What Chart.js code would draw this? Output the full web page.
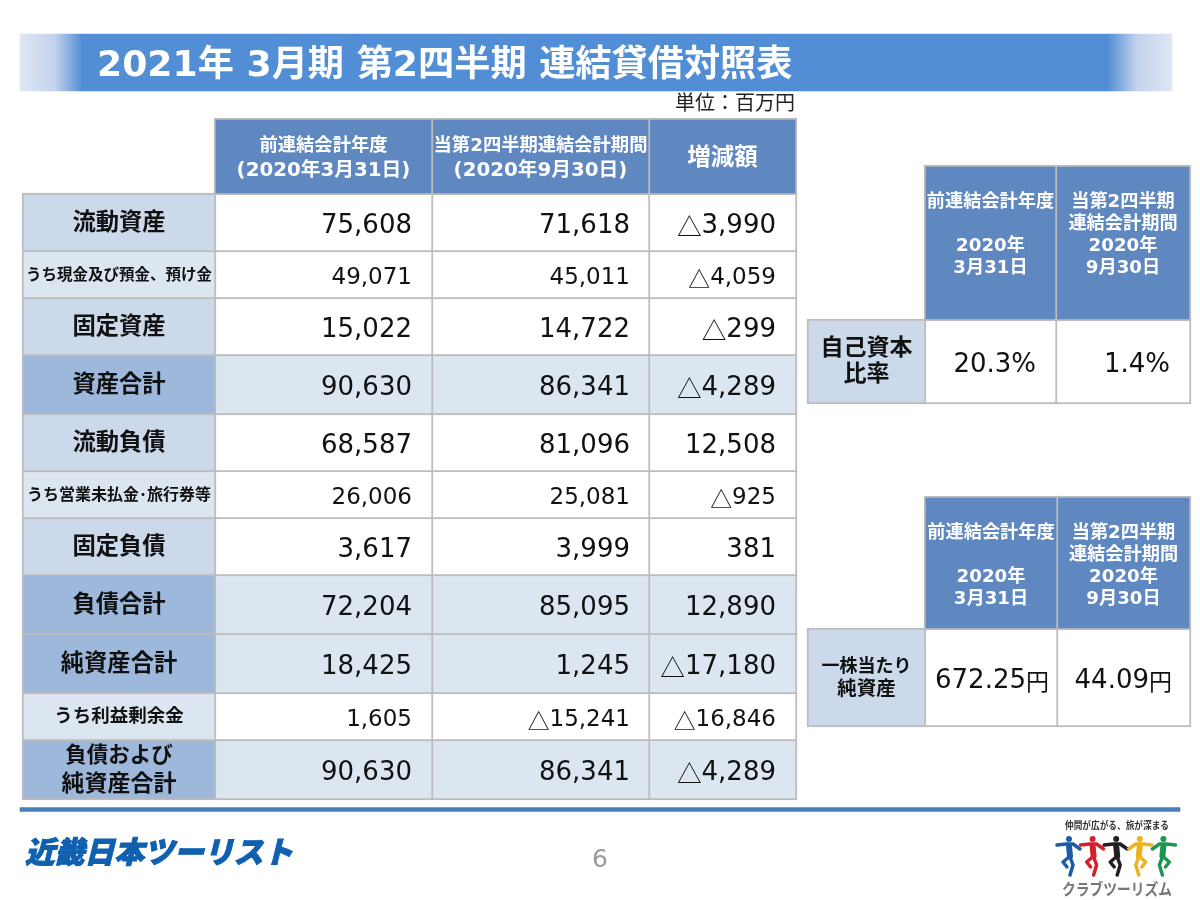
<!DOCTYPE html>
<html lang="ja">
<head>
<meta charset="utf-8">
<title>連結貸借対照表</title>
<script src="https://cdn.jsdelivr.net/npm/chart.js@4"></script>
<style>
  html, body { margin: 0; padding: 0; background: #fff; }
  canvas { display: block; }
</style>
</head>
<body>
<canvas id="slide" width="1200" height="900"></canvas>
<script>
// table content
const titleText = '2021年 3月期 第2四半期 連結貸借対照表';
const unitText = '単位：百万円';
const pageText = '6';
const headMain = [['前連結会計年度', '(2020年3月31日)'], ['当第2四半期連結会計期間', '(2020年9月30日)'], ['増減額']];
const rowLabels = [['流動資産'], ['うち現金及び預金、預け金'], ['固定資産'], ['資産合計'], ['流動負債'], ['うち営業未払金･旅行券等'], ['固定負債'], ['負債合計'], ['純資産合計'], ['うち利益剰余金'], ['負債および', '純資産合計']];
const prevValues = [75608, 49071, 15022, 90630, 68587, 26006, 3617, 72204, 18425, 1605, 90630];
const currValues = [71618, 45011, 14722, 86341, 81096, 25081, 3999, 85095, 1245, -15241, 86341];
const diffValues = [-3990, -4059, -299, -4289, 12508, -925, 381, 12890, -17180, -16846, -4289];
const rowKinds = ['main', 'sub', 'main', 'total', 'main', 'sub', 'main', 'total', 'total', 'sub', 'total'];

const headSide = [['前連結会計年度', '', '2020年', '3月31日'], ['当第2四半期', '連結会計期間', '2020年', '9月30日']];
const ratioLabel = ['自己資本', '比率'];
const ratioValues = [20.3, 1.4];
const bookLabel = ['一株当たり', '純資産'];
const bookValues = [672.25, 44.09];

const logoText = '近畿日本ツーリスト';
const tagText = '仲間が広がる、旅が深まる';
const clubText = 'クラブツーリズム';
const dancerColors = ['#1a5ca6', '#d5202c', '#231f20', '#efb21f', '#1c9650'];

// layout, in slide pixels (the axes run 0-1200 and 0-900)
const mainX = [23, 215, 432, 649, 796];
const mainY = [119, 194, 251, 298, 355, 414, 471, 518, 575, 634, 693, 740, 799];
const side1X = [808, 925, 1056, 1190];
const side1Y = [166, 320, 403];
const side2X = [808, 925, 1057, 1190];
const side2Y = [497, 629, 726];

const HEAD = '#5f87c0', LIGHT = '#cbd9ea', DARK = '#9db8da', PALE = '#dce6f1', LINE = '#bcbcbc', INK = '#111';
const SANS = '"DejaVu Sans", "Noto Sans CJK JP", sans-serif';
const CJK = '"Noto Sans CJK JP", sans-serif';

const fmt = v => (v < 0 ? '△' : '') + Math.abs(v).toLocaleString('en-US');

const cells = [];
// sizes: one px size per line, or one for all lines
function cell(x0, x1, y0, y1, fill, lines, o) {
  cells.push(Object.assign({ x0, x1, y0, y1, fill, lines, color: INK, bold: true, dy: 1 }, o));
}
function num(x0, x1, y0, y1, fill, text, size, right) {
  cell(x0, x1, y0, y1, fill, [text], { size, right, bold: false, dy: 4 });
}

// main table
headMain.forEach((lines, c) => {
  const o = c == 2 ? { size: 23.5 } : { size: [18.3, 19.8], lh: 24 };
  cell(mainX[c + 1], mainX[c + 2], mainY[0], mainY[1], HEAD, lines, Object.assign({ color: '#fff', dy: 2 }, o));
});
rowLabels.forEach((lines, r) => {
  const kind = rowKinds[r];
  const y0 = mainY[r + 1], y1 = mainY[r + 2];
  const labelFill = kind == 'main' ? LIGHT : kind == 'total' ? DARK : PALE;
  const valFill = kind == 'total' ? PALE : '#fff';
  const labelSize = r == 1 ? 15.5 : r == 5 ? 16 : r == 9 ? 18.5 : r == 10 ? [21.5, 23] : 23.3;
  const numSize = kind == 'sub' ? 23 : 26;
  cell(mainX[0], mainX[1], y0, y1, labelFill, lines, { size: labelSize, lh: 29 });
  num(mainX[1], mainX[2], y0, y1, valFill, fmt(prevValues[r]), numSize, 412);
  num(mainX[2], mainX[3], y0, y1, valFill, fmt(currValues[r]), numSize, 630);
  num(mainX[3], mainX[4], y0, y1, valFill, fmt(diffValues[r]), numSize, 776);
});

// side tables
const headOpts = dy => ({ size: 18.2, lh: 22, color: '#fff', dy });
cell(side1X[1], side1X[2], side1Y[0], side1Y[1], HEAD, headSide[0], headOpts(-8));
cell(side1X[2], side1X[3], side1Y[0], side1Y[1], HEAD, headSide[1], headOpts(-8));
cell(side1X[0], side1X[1], side1Y[1], side1Y[2], LIGHT, ratioLabel, { size: 23, lh: 26 });
num(side1X[1], side1X[2], side1Y[1], side1Y[2], '#fff', ratioValues[0].toFixed(1) + '%', 26, 1036);
num(side1X[2], side1X[3], side1Y[1], side1Y[2], '#fff', ratioValues[1].toFixed(1) + '%', 26, 1170);

cell(side2X[1], side2X[2], side2Y[0], side2Y[1], HEAD, headSide[0], headOpts(3));
cell(side2X[2], side2X[3], side2Y[0], side2Y[1], HEAD, headSide[1], headOpts(3));
cell(side2X[0], side2X[1], side2Y[1], side2Y[2], LIGHT, bookLabel, { size: [18, 19.5], lh: 22 });
num(side2X[1], side2X[2], side2Y[1], side2Y[2], '#fff', bookValues[0].toFixed(2) + '円', 26, 1049);
num(side2X[2], side2X[3], side2Y[1], side2Y[2], '#fff', bookValues[1].toFixed(2) + '円', 26, 1172);

const canvas = document.getElementById('slide');
const ctx = canvas.getContext('2d');

const bandFill = ctx.createLinearGradient(20, 0, 1172, 0);
bandFill.addColorStop(0, '#dfe6f4');
bandFill.addColorStop(0.03, '#c4d3ec');
bandFill.addColorStop(0.054, '#528ed5');
bandFill.addColorStop(0.944, '#528ed5');
bandFill.addColorStop(0.97, '#c4d3ec');
bandFill.addColorStop(1, '#dfe6f4');

// every cell is one floating bar, its height set through barThickness
const datasets = cells.map(c => ({
  data: [{ x: [c.x0 - 1, c.x1 + 1], y: (c.y0 + c.y1) / 2 }],
  barThickness: c.y1 - c.y0 + 2,
  backgroundColor: c.fill,
  borderColor: LINE,
  borderWidth: 2,
  borderSkipped: false
}));
datasets.push({ data: [{ x: [20, 1172], y: 62.5 }], barThickness: 57, backgroundColor: bandFill, borderWidth: 0 });
datasets.push({ data: [{ x: [20, 1180], y: 809.5 }], barThickness: 4, backgroundColor: '#4a7ebb', borderWidth: 0 });

// right aligned number, the triangle and 円 come from the CJK font like in the slide
function drawNumber(g, text, right, y, size) {
  const tri = text[0] == '△' ? '△' : '';
  const yen = text.endsWith('円') ? '円' : '';
  const body = text.slice(tri.length, text.length - yen.length);
  let x = right;
  g.textAlign = 'right';
  if (yen) {
    g.font = '23px ' + CJK;
    g.fillText(yen, x, y);
    x -= g.measureText(yen).width;
  }
  g.font = size + 'px ' + SANS;
  g.fillText(body, x, y);
  x -= g.measureText(body).width;
  if (tri) {
    g.font = size * 0.95 + 'px ' + CJK;
    g.fillText(tri, x, y);
  }
}

const slideText = {
  id: 'slideText',
  afterDatasetsDraw(chart) {
    const g = chart.ctx, sx = chart.scales.x, sy = chart.scales.y;
    g.save();
    g.textBaseline = 'middle';
    cells.forEach(c => {
      const cy = sy.getPixelForValue((c.y0 + c.y1) / 2) + c.dy;
      g.fillStyle = c.color;
      if (c.right) {
        drawNumber(g, c.lines[0], sx.getPixelForValue(c.right), cy, c.size);
        return;
      }
      g.textAlign = 'center';
      const tx = sx.getPixelForValue((c.x0 + c.x1) / 2);
      c.lines.forEach((t, i) => {
        const size = Array.isArray(c.size) ? c.size[i] : c.size;
        g.font = 'bold ' + size + 'px ' + SANS;
        g.fillText(t, tx, cy + (i - (c.lines.length - 1) / 2) * (c.lh || 0));
      });
    });

    g.textAlign = 'left';
    g.font = 'bold 36.2px ' + SANS;
    g.fillStyle = '#fff';
    g.fillText(titleText, 97, 67);

    g.textAlign = 'right';
    g.font = '20px ' + CJK;
    g.fillStyle = '#222';
    g.fillText(unitText, 795, 102);

    g.textAlign = 'center';
    g.font = '25px ' + SANS;
    g.fillStyle = '#999';
    g.fillText(pageText, 600, 860);

    g.textAlign = 'left';
    g.font = 'italic 900 30px ' + CJK;
    g.fillStyle = '#1060b0';
    g.strokeStyle = '#1060b0';
    g.lineWidth = 1;
    g.fillText(logoText, 25, 852, 268);
    g.strokeText(logoText, 25, 852, 268);

    g.textAlign = 'center';
    g.font = 'bold 10px ' + CJK;
    g.fillStyle = '#333';
    g.fillText(tagText, 1117, 825, 104);
    g.font = 'bold 16px ' + CJK;
    g.fillStyle = '#777';
    g.fillText(clubText, 1117, 889, 110);

    // dancers of the logo
    g.lineCap = 'round';
    g.lineJoin = 'round';
    dancerColors.forEach((col, i) => {
      const x = 1069 + i * 23.6, flip = i > 2 ? -1 : 1;
      g.strokeStyle = col;
      g.fillStyle = col;
      g.beginPath();
      g.arc(x, 839, 3, 0, Math.PI * 2);
      g.fill();
      g.lineWidth = 3.5;
      g.beginPath();
      g.moveTo(x - 12 * flip, 845);
      g.lineTo(x - 3 * flip, 844);
      g.lineTo(x + 4 * flip, 844);
      g.lineTo(x + 11 * flip, 849);
      g.stroke();
      g.lineWidth = 6;
      g.beginPath();
      g.moveTo(x, 846);
      g.lineTo(x + 1 * flip, 856);
      g.stroke();
      g.lineWidth = 3.5;
      g.beginPath();
      g.moveTo(x, 857);
      g.lineTo(x - 6 * flip, 862);
      g.lineTo(x - 2 * flip, 867);
      g.moveTo(x + 1 * flip, 857);
      g.lineTo(x + 4 * flip, 865);
      g.lineTo(x + 1 * flip, 875);
      g.stroke();
    });
    g.restore();
  }
};

new Chart(ctx, {
  type: 'bar',
  data: { datasets },
  options: {
    indexAxis: 'y',
    responsive: false,
    animation: false,
    devicePixelRatio: 1,
    layout: { padding: 0 },
    datasets: { bar: { grouped: false } },
    plugins: { legend: { display: false }, tooltip: { enabled: false }, title: { display: false } },
    scales: {
      x: { type: 'linear', min: 0, max: 1200, display: false, offset: false },
      y: { type: 'linear', min: 0, max: 900, reverse: true, display: false, offset: false }
    }
  },
  plugins: [slideText]
});
</script>
</body>
</html>
